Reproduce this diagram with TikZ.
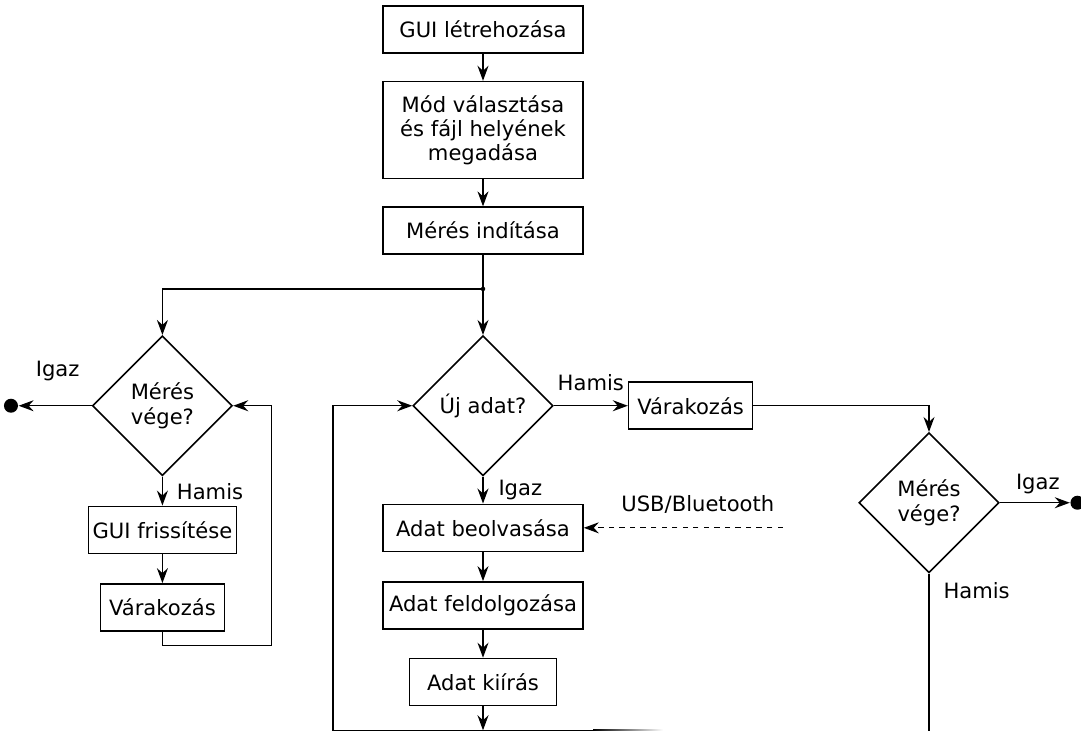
\documentclass[tikz,border=0pt]{standalone}
\usepackage{fontspec}
\setmainfont{DejaVu Sans}
\usepackage{tikz}
\usetikzlibrary{arrows.meta,calc,positioning,shapes.geometric}

\begin{document}
\begin{tikzpicture}[node distance=0.6cm,every node/.style={font=\fontsize{12}{13.7}\selectfont},>={Stealth[length=3mm,width=2.2mm,inset=1mm]},line width=0.75pt,
  box/.style={draw,line width=0.9pt,align=center,inner sep=1pt,minimum width=4cm,minimum height=0.94cm},
  decision/.style={draw,line width=0.9pt,diamond,aspect=1,inner sep=0pt,minimum width=2.8cm,minimum height=2.8cm,align=center},
  enddot/.style={circle,fill,inner sep=0pt,minimum size=0.28cm}]
  \useasboundingbox (0,0) rectangle (21.62,-14.62);
  % kozepso oszlop
  \node[box] (gui) at (9.66,-0.59) {GUI létrehozása};
  \node[box,minimum height=1.94cm,below=0.54cm of gui] (mod) {Mód választása\\és fájl helyének\\megadása};
  \node[box,below=0.54cm of mod] (start) {Mérés indítása};
  \coordinate[below=0.68cm of start] (junc);
  \node[decision,below=1.6cm of start] (ujadat) {Új adat?};
  \node[box,below=0.54cm of ujadat] (read) {Adat beolvasása};
  \node[box,below=0.58cm of read] (proc) {Adat feldolgozása};
  \node[box,minimum width=2.94cm,below=0.56cm of proc] (write) {Adat kiírás};
  \coordinate[below=0.48cm of write] (loopB);
  \coordinate[left=3cm of loopB] (loopBL);
  \coordinate[right=3.98cm of read] (usb);
  \node at ($(usb)+(-1.7,0.46)$) (usblbl) {USB/Bluetooth};
  % bal oldal
  \node[decision,left=3.58cm of ujadat] (meres1) {Mérés\\vége?};
  \node[enddot,left=1.46cm of meres1] (endL) {};
  \node[box,minimum width=2.96cm,below=0.58cm of meres1] (frissit) {GUI frissítése};
  \node[box,minimum width=2.48cm,below=0.58cm of frissit] (wait1) {Várakozás};
  % jobb oldal
  \node[box,minimum width=2.48cm,right=1.48cm of ujadat] (wait2) {Várakozás};
  \node[decision] (meres2) at ($(ujadat)+(8.92,-1.94)$) {Mérés\\vége?};
  \node[enddot,right=1.4cm of meres2] (endR) {};
  \coordinate (rbot) at (meres2.south |- 0,-14.7);
  % feliratok
  \node at ($(meres1.west)+(-0.68,0.7)$) (igaz1) {Igaz};
  \node[anchor=west] at ($(meres1.south)+(0.16,-0.3)$) (hamis1) {Hamis};
  \node at ($(ujadat.east)+(0.74,0.46)$) (hamis2) {Hamis};
  \node[anchor=west] at ($(ujadat.south)+(0.18,-0.27)$) (igaz2) {Igaz};
  \node at ($(meres2.east)+(0.76,0.38)$) (igaz3) {Igaz};
  \node[anchor=west] at ($(meres2.south)+(0.16,-0.34)$) (hamis3) {Hamis};
  % nyilak
  \draw[->] (gui) -- (mod);
  \draw[->] (mod) -- (start);
  \draw (start) -- (junc);
  \fill (junc) circle (0.045);
  \draw[->] (junc) -- (ujadat);
  \draw[->] (junc) -| (meres1);
  \draw[->] (meres1) -- (endL);
  \draw[->] (meres1) -- (frissit);
  \draw[->] (frissit) -- (wait1);
  \draw[->] (wait1.south) -- ++(0,-0.28) -| ($(meres1.east)+(0.76,0)$) -- (meres1.east);
  \draw[->] (ujadat) -- (wait2);
  \draw[->] (wait2) -| (meres2);
  \draw[->] (meres2) -- (endR);
  \draw (meres2.south) -- (rbot);
  \draw[->] (ujadat) -- (read);
  \draw[->,dashed] (usb) -- (read);
  \draw[->] (read) -- (proc);
  \draw[->] (proc) -- (write);
  \draw[->] (write) -- (loopB);
  \draw[->] (loopB) -- (loopBL) |- (ujadat.west);
  \draw (loopB) -- ++(2.2,0);
  \shade[left color=black,right color=white] ($(loopB)+(2.2,0.0132)$) rectangle ($(loopB)+(3.6,-0.0132)$);
\end{tikzpicture}
\end{document}
